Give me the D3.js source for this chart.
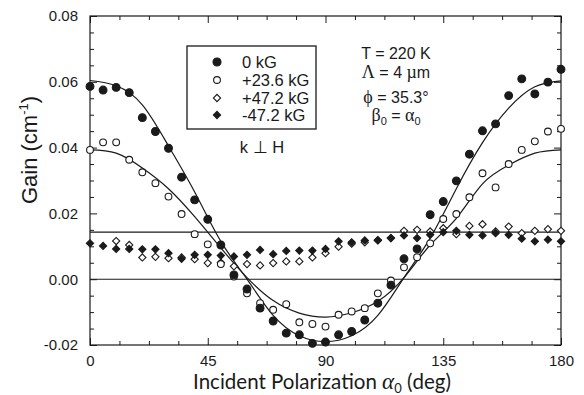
<!DOCTYPE html>
<html>
<head>
<meta charset="utf-8">
<script src="https://cdn.jsdelivr.net/npm/d3@7"></script>
<style>
	body { margin: 0; background: #fff; }
	svg { display: block; font-family: "Liberation Sans", Arial, sans-serif; }
</style>
</head>
<body>
<svg id="chart" width="584" height="395"></svg>
<script>
// measured points, every 5 degrees
const angles = [0, 5, 10, 15, 20, 25, 30, 35, 40, 45, 50, 55, 60, 65, 70, 75, 80, 85, 90,
	95, 100, 105, 110, 115, 120, 125, 130, 135, 140, 145, 150, 155, 160, 165, 170, 175, 180];

const gain_0kg = [0.0586, 0.0575, 0.0583, 0.0567, 0.0491, 0.0449, 0.0398, 0.0310, 0.0241, 0.0182,
	0.0104, 0.0013, -0.0030, -0.0088, -0.0127, -0.0164, -0.0169, -0.0195, -0.0191,
	-0.0169, -0.0159, -0.0124, -0.0073, -0.0018, 0.0062, 0.0092, 0.0196, 0.0236, 0.0299,
	0.0380, 0.0451, 0.0472, 0.0558, 0.0609, 0.0563, 0.0599, 0.0638];

const gain_p236 = [0.0393, 0.0416, 0.0416, 0.0363, 0.0325, 0.0292, 0.0251, 0.0198, 0.0137, 0.0106,
	0.0046, 0.0008, -0.0043, -0.0073, -0.0093, -0.0076, -0.0131, -0.0136, -0.0144,
	-0.0108, -0.0098, -0.0088, -0.0043, -0.0004, 0.0036, 0.0067, 0.0109, 0.0183, 0.0198,
	0.0249, 0.0322, 0.0279, 0.0350, 0.0393, 0.0419, 0.0449, 0.0457];

const gain_p472 = [null, null, 0.0116, 0.0104, 0.0066, 0.0068, 0.0064, 0.0066, 0.0061, 0.0049,
	0.0050, 0.0039, 0.0046, 0.0042, 0.0049, 0.0054, 0.0054, 0.0066, 0.0079,
	0.0099, 0.0108, 0.0112, 0.0118, 0.0125, 0.0147, 0.0150, 0.0145, 0.0155, 0.0137,
	0.0162, 0.0167, 0.0145, 0.0160, 0.0140, 0.0147, 0.0152, 0.0147];

const gain_m472 = [0.0109, 0.0101, 0.0092, 0.0092, 0.0091, 0.0091, 0.0079, 0.0062, 0.0074, 0.0074,
	0.0072, 0.0069, 0.0074, 0.0089, 0.0076, 0.0086, 0.0087, 0.0087, 0.0092,
	0.0115, 0.0112, 0.0118, 0.0119, 0.0125, 0.0133, 0.0125, 0.0135, 0.0143, 0.0147,
	0.0135, 0.0133, 0.0140, 0.0135, 0.0123, 0.0115, 0.0120, 0.0115];

// fitted curves, read every 10 degrees
const fit_angles = [0, 10, 20, 30, 40, 50, 60, 70, 80, 90, 100, 110, 120, 130, 140, 150, 160, 170, 180];
const fit_0kg = [0.0604, 0.0588, 0.0530, 0.0405, 0.0265, 0.0115, 0.0000, -0.0110, -0.0172, -0.0190,
	-0.0172, -0.0110, 0.0005, 0.0125, 0.0275, 0.0415, 0.0520, 0.0585, 0.0603];
const fit_p236 = [0.0393, 0.0383, 0.0338, 0.0275, 0.0190, 0.0095, 0.0005, -0.0065, -0.0103, -0.0115,
	-0.0102, -0.0067, 0.0005, 0.0104, 0.0185, 0.0290, 0.0347, 0.0383, 0.0393];
const fit_flat = 0.0143;

const x_ticks = [0, 45, 90, 135, 180];
const x_minor = [11.25, 22.5, 33.75, 56.25, 67.5, 78.75, 101.25, 112.5, 123.75, 146.25, 157.5, 168.75];
const y_ticks = [-0.02, 0.00, 0.02, 0.04, 0.06, 0.08];
const y_minor = [-0.015, -0.01, -0.005, 0.005, 0.01, 0.015, 0.025, 0.03, 0.035, 0.045, 0.05, 0.055,
	0.065, 0.07, 0.075];

const legend_labels = ['0 kG', '+23.6 kG', '+47.2 kG', '-47.2 kG'];

const INK = '#1a1a1a';
const MARGIN = {left: 90, right: 561, top: 16, bottom: 345};

const svg = d3.select('#chart');

const xScale = d3.scaleLinear().domain([0, 180]).range([MARGIN.left, MARGIN.right]);
const yScale = d3.scaleLinear().domain([-0.02, 0.08]).range([MARGIN.bottom, MARGIN.top]);

// axes, ticks pointing inward on all four sides
function addAxis(axis, transform, with_labels) {
	const g = svg.append('g')
		.attr('transform', transform)
		.call(axis);

	g.select('.domain').remove();
	g.selectAll('.tick line').attr('stroke', INK).attr('stroke-width', 1);

	if (with_labels) {
		g.selectAll('.tick text')
			.attr('fill', INK)
			.attr('font-size', 15)
			.attr('font-family', '"Liberation Sans", Arial, sans-serif');
	}
	else {
		g.selectAll('.tick text').remove();
	}
}

addAxis(d3.axisBottom(xScale).tickValues(x_ticks).tickSizeInner(-7).tickSizeOuter(0).tickPadding(10),
	`translate(0,${MARGIN.bottom})`, true);
addAxis(d3.axisBottom(xScale).tickValues(x_minor).tickSizeInner(-4).tickSizeOuter(0),
	`translate(0,${MARGIN.bottom})`, false);
addAxis(d3.axisTop(xScale).tickValues(x_ticks).tickSizeInner(-7).tickSizeOuter(0),
	`translate(0,${MARGIN.top})`, false);
addAxis(d3.axisTop(xScale).tickValues(x_minor).tickSizeInner(-4).tickSizeOuter(0),
	`translate(0,${MARGIN.top})`, false);

addAxis(d3.axisLeft(yScale).tickValues(y_ticks).tickFormat(d => d.toFixed(2)).tickSizeInner(-7)
	.tickSizeOuter(0).tickPadding(12), `translate(${MARGIN.left},0)`, true);
addAxis(d3.axisLeft(yScale).tickValues(y_minor).tickSizeInner(-4).tickSizeOuter(0),
	`translate(${MARGIN.left},0)`, false);
addAxis(d3.axisRight(yScale).tickValues(y_ticks).tickSizeInner(-7).tickSizeOuter(0),
	`translate(${MARGIN.right},0)`, false);
addAxis(d3.axisRight(yScale).tickValues(y_minor).tickSizeInner(-4).tickSizeOuter(0),
	`translate(${MARGIN.right},0)`, false);

svg.append('rect')
	.attr('x', MARGIN.left)
	.attr('y', MARGIN.top)
	.attr('width', MARGIN.right - MARGIN.left)
	.attr('height', MARGIN.bottom - MARGIN.top)
	.attr('fill', 'none')
	.attr('stroke', INK)
	.attr('stroke-width', 1.2);

// reference lines
[0, fit_flat].forEach(v => {
	svg.append('line')
		.attr('x1', xScale(0))
		.attr('x2', xScale(180))
		.attr('y1', yScale(v))
		.attr('y2', yScale(v))
		.attr('stroke', INK)
		.attr('stroke-width', 1.1);
});

// fitted curves
const lineGenerator = d3.line()
	.x(d => xScale(d[0]))
	.y(d => yScale(d[1]))
	.curve(d3.curveNatural);

[fit_0kg, fit_p236].forEach(values => {
	svg.append('path')
		.attr('d', lineGenerator(fit_angles.map((a, i) => [a, values[i]])))
		.attr('fill', 'none')
		.attr('stroke', INK)
		.attr('stroke-width', 1.2);
});

// markers
const diamond = d3.symbol().type(d3.symbolSquare).size(26);

function drawDiamonds(values, filled) {
	svg.append('g')
		.selectAll('path')
		.data(angles.map((a, i) => [a, values[i]]).filter(d => d[1] !== null))
		.join('path')
		.attr('d', diamond)
		.attr('transform', d => `translate(${xScale(d[0])},${yScale(d[1])}) rotate(45)`)
		.attr('fill', filled ? INK : '#fff')
		.attr('stroke', INK)
		.attr('stroke-width', 1.1);
}

function drawCircles(values, filled) {
	svg.append('g')
		.selectAll('circle')
		.data(angles.map((a, i) => [a, values[i]]))
		.join('circle')
		.attr('cx', d => xScale(d[0]))
		.attr('cy', d => yScale(d[1]))
		.attr('r', filled ? 3.9 : 3.4)
		.attr('fill', filled ? INK : '#fff')
		.attr('stroke', INK)
		.attr('stroke-width', 1.1);
}

drawDiamonds(gain_p472, false);
drawDiamonds(gain_m472, true);
drawCircles(gain_p236, false);
drawCircles(gain_0kg, true);

// legend
const legend = svg.append('g');

legend.append('rect')
	.attr('x', 187)
	.attr('y', 46)
	.attr('width', 129)
	.attr('height', 83)
	.attr('fill', '#fff')
	.attr('stroke', INK)
	.attr('stroke-width', 1.3);

const legend_rows = [62, 80, 98, 115];

legend_labels.forEach((label, i) => {
	const ly = legend_rows[i];

	if (i < 2) {
		legend.append('circle')
			.attr('cx', 217)
			.attr('cy', ly)
			.attr('r', i == 0 ? 4 : 3.4)
			.attr('fill', i == 0 ? INK : '#fff')
			.attr('stroke', INK)
			.attr('stroke-width', 1.1);
	}
	else {
		legend.append('path')
			.attr('d', diamond)
			.attr('transform', `translate(217,${ly}) rotate(45)`)
			.attr('fill', i == 3 ? INK : '#fff')
			.attr('stroke', INK)
			.attr('stroke-width', 1.1);
	}

	legend.append('text')
		.attr('x', 242)
		.attr('y', ly + 6)
		.attr('font-size', 16.5)
		.attr('fill', INK)
		.text(label);
});

svg.append('text')
	.attr('x', 262)
	.attr('y', 153)
	.attr('text-anchor', 'middle')
	.attr('font-size', 16.5)
	.attr('fill', INK)
	.text('k \u22A5 H');

// experiment conditions
const GREEK = '"Liberation Serif", "DejaVu Serif", serif';

function addNote(y, parts) {
	const t = svg.append('text')
		.attr('x', 396)
		.attr('y', y)
		.attr('text-anchor', 'middle')
		.attr('font-size', 16)
		.attr('fill', INK);

	parts.forEach(p => {
		const s = t.append('tspan').text(p.text);

		if (p.greek) {
			s.attr('font-family', GREEK).attr('font-size', 18);
		}
		if (p.sub) {
			s.attr('font-size', 11).attr('dy', 4);
		}
		if (p.up) {
			s.attr('dy', -4);
		}
	});
}

addNote(59, [{text: 'T = 220 K'}]);
addNote(78, [{text: '\u039B', greek: true}, {text: ' = 4 '}, {text: '\u00B5', greek: true}, {text: 'm'}]);
addNote(103, [{text: '\u03D5', greek: true}, {text: ' = 35.3\u00B0'}]);
addNote(121, [{text: '\u03B2', greek: true}, {text: '0', sub: true}, {text: ' = ', up: true},
	{text: '\u03B1', greek: true}, {text: '0', sub: true}]);

// axis titles
const x_title = svg.append('text')
	.attr('x', 322)
	.attr('y', 389)
	.attr('text-anchor', 'middle')
	.attr('font-family', 'Lato, "Open Sans", sans-serif')
	.attr('font-size', 20.5)
	.attr('fill', INK);

x_title.append('tspan').text('Incident Polarization ');
x_title.append('tspan').attr('font-family', GREEK).attr('font-style', 'italic').attr('font-size', 23).text('\u03B1');
x_title.append('tspan').attr('font-size', 13).attr('dy', 4).text('0');
x_title.append('tspan').attr('dy', -4).text(' (deg)');

const y_title = svg.append('text')
	.attr('transform', 'translate(37,150) rotate(-90)')
	.attr('text-anchor', 'middle')
	.attr('font-size', 22)
	.attr('fill', INK);

y_title.append('tspan').text('Gain (cm');
y_title.append('tspan').attr('font-size', 13).attr('dy', -9).text('-1');
y_title.append('tspan').attr('dy', 9).text(')');
</script>
</body>
</html>
